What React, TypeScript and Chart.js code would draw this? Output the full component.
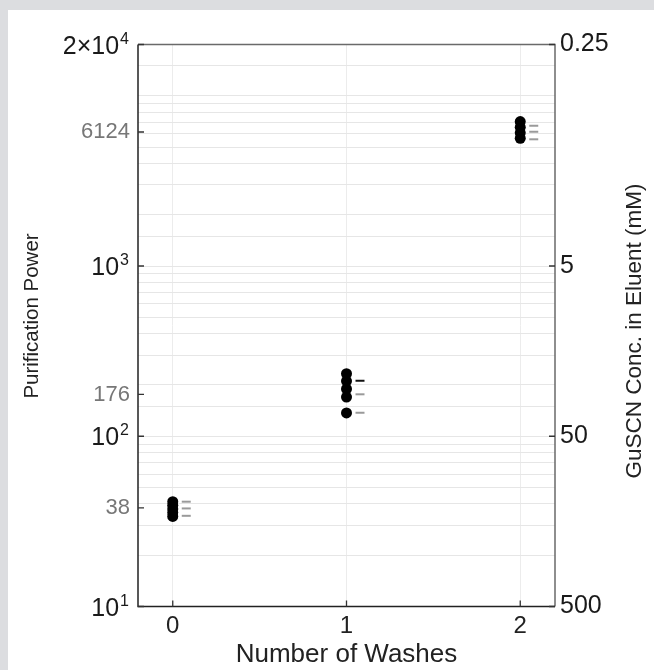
import { useEffect, useRef } from "react";
import { Chart, registerables } from "chart.js";

Chart.register(...registerables);

// ---- data ----
const washes = [0, 1, 2];
const wash0Values = [41.3, 39.3, 37.4, 35.6, 33.8];
const wash1Values = [233, 211, 189.5, 170, 137];
const wash2Values = [7050, 6520, 6060, 5620];
const wash0Marks = [41.3, 37.7, 34.1];
const wash1Marks = [212, 176.4, 137.5];
const wash2Marks = [6670, 6150, 5550];
const wash0MarkDark = [false, false, false];
const wash1MarkDark = [true, false, false];
const wash2MarkDark = [false, false, false];

const greyTickValues = [38, 176, 6124];
const greyTickLabels = ["38", "176", "6124"];
const powerTickValues = [10, 100, 1000, 20000];
const powerTickBases = ["10", "10", "10", "2×10"];
const powerTickExps = ["1", "2", "3", "4"];
const rightTickValues = [0.25, 5, 50, 500];
const rightTickLabels = ["0.25", "5", "50", "500"];
const xTickValues = [0, 1, 2];

const xTitle = "Number of Washes";
const yTitle = "Purification Power";
const y2Title = "GuSCN Conc. in Eluent (mM)";

const FONT = "'Liberation Sans', Arial, Helvetica, sans-serif";

function makeDash(color: string): HTMLCanvasElement {
  const c = document.createElement("canvas");
  c.width = 38;
  c.height = 4;
  const g = c.getContext("2d")!;
  g.strokeStyle = color;
  g.lineWidth = 2;
  g.beginPath();
  g.moveTo(28, 2);
  g.lineTo(37, 2);
  g.stroke();
  return c;
}

const framePlugin = {
  id: "frame",
  afterDraw(chart: any) {
    const { ctx, chartArea: a, scales } = chart;
    ctx.save();
    ctx.lineWidth = 1.5;
    ctx.strokeStyle = "#6a6a6a";
    ctx.beginPath();
    ctx.moveTo(a.left, a.top);
    ctx.lineTo(a.right, a.top);
    ctx.lineTo(a.right, a.bottom);
    ctx.stroke();
    ctx.strokeStyle = "#222";
    ctx.beginPath();
    ctx.moveTo(a.left, a.top);
    ctx.lineTo(a.left, a.bottom);
    ctx.lineTo(a.right, a.bottom);
    ctx.stroke();

    const L = 6;
    ctx.lineWidth = 1.3;
    ctx.strokeStyle = "#333";
    ctx.beginPath();
    [...greyTickValues, ...powerTickValues].forEach((v) => {
      const y = scales.y.getPixelForValue(v);
      ctx.moveTo(a.left, y);
      ctx.lineTo(a.left + L, y);
    });
    rightTickValues.forEach((v) => {
      const y = scales.y2.getPixelForValue(v);
      ctx.moveTo(a.right, y);
      ctx.lineTo(a.right - L, y);
    });
    xTickValues.forEach((v) => {
      const x = scales.x.getPixelForValue(v);
      ctx.moveTo(x, a.bottom);
      ctx.lineTo(x, a.bottom - L);
    });
    ctx.stroke();

    // power-of-ten labels with superscripts
    ctx.fillStyle = "#1a1a1a";
    ctx.textBaseline = "alphabetic";
    ctx.textAlign = "left";
    powerTickValues.forEach((v, i) => {
      const y = scales.y.getPixelForValue(v);
      ctx.font = `16px ${FONT}`;
      const ws = ctx.measureText(powerTickExps[i]).width;
      ctx.font = `25px ${FONT}`;
      const wb = ctx.measureText(powerTickBases[i]).width;
      const right = a.left - 9;
      const x0 = right - ws - wb - 1;
      ctx.fillText(powerTickBases[i], x0, y + 9);
      ctx.font = `16px ${FONT}`;
      ctx.fillText(powerTickExps[i], x0 + wb + 1, y - 1);
    });

    ctx.fillStyle = "#222";
    ctx.textAlign = "center";
    ctx.textBaseline = "middle";
    ctx.font = `26px ${FONT}`;
    ctx.fillText(xTitle, (a.left + a.right) / 2, 645);
    ctx.font = `20.5px ${FONT}`;
    ctx.save();
    ctx.translate(24, 306);
    ctx.rotate(-Math.PI / 2);
    ctx.fillText(yTitle, 0, 0);
    ctx.restore();
    ctx.font = `22.5px ${FONT}`;
    ctx.save();
    ctx.translate(627, 321);
    ctx.rotate(-Math.PI / 2);
    ctx.fillText(y2Title, 0, 0);
    ctx.restore();
    ctx.restore();
  },
};

export default function App() {
  const ref = useRef<HTMLCanvasElement>(null);

  useEffect(() => {
    const greyDash = makeDash("#9a9a9a");
    const darkDash = makeDash("#111");
    const groups = [wash0Values, wash1Values, wash2Values];
    const marks = [wash0Marks, wash1Marks, wash2Marks];
    const dark = [wash0MarkDark, wash1MarkDark, wash2MarkDark];

    const pointData: { x: number; y: number }[] = [];
    groups.forEach((vals, i) => vals.forEach((v) => pointData.push({ x: washes[i], y: v })));
    const markData: { x: number; y: number }[] = [];
    const markStyles: HTMLCanvasElement[] = [];
    marks.forEach((vals, i) =>
      vals.forEach((v, j) => {
        markData.push({ x: washes[i], y: v });
        markStyles.push(dark[i][j] ? darkDash : greyDash);
      })
    );

    const chart = new Chart(ref.current!, {
      type: "scatter",
      data: {
        datasets: [
          {
            data: markData,
            pointStyle: markStyles as any,
            pointRadius: 5,
            pointHoverRadius: 5,
          },
          {
            data: pointData,
            pointRadius: 5.5,
            pointHoverRadius: 5.5,
            backgroundColor: "#000",
            borderColor: "#000",
            borderWidth: 0,
          },
        ],
      },
      options: {
        animation: false,
        responsive: false,
        events: [],
        layout: { padding: { top: 34.5, left: 0, right: 0, bottom: 0 } },
        plugins: { legend: { display: false }, tooltip: { enabled: false } },
        scales: {
          x: {
            type: "linear",
            min: -0.2,
            max: 2.2,
            afterBuildTicks: (s: any) => {
              s.ticks = xTickValues.map((v) => ({ value: v }));
            },
            afterFit: (s: any) => {
              s.height = 63.5;
            },
            grid: { color: "#ececec", lineWidth: 1, drawTicks: false },
            border: { display: false },
            ticks: {
              padding: 5,
              color: "#222",
              font: { family: FONT, size: 24 },
              callback: (v: any) => String(v),
            },
          },
          y: {
            type: "logarithmic",
            position: "left",
            min: 10,
            max: 20000,
            afterBuildTicks: (s: any) => {
              const base = s.ticks.map((t: any) => t.value);
              const all = Array.from(new Set([...base, ...greyTickValues, ...powerTickValues])).sort(
                (p: any, q: any) => p - q
              );
              s.ticks = all.map((v: any) => ({ value: v }));
            },
            afterFit: (s: any) => {
              s.width = 130;
            },
            grid: {
              drawTicks: false,
              lineWidth: 1,
              color: (c: any) =>
                c.tick && greyTickValues.includes(c.tick.value) ? "rgba(0,0,0,0)" : "#e6e6e6",
            },
            border: { display: false },
            ticks: {
              autoSkip: false,
              padding: 8,
              font: { family: FONT, size: 22 },
              color: "#777",
              callback: (v: any) => {
                const i = greyTickValues.indexOf(Number(v));
                return i >= 0 ? greyTickLabels[i] : "";
              },
            },
          },
          y2: {
            type: "logarithmic",
            position: "right",
            reverse: true,
            min: 0.25,
            max: 500,
            afterBuildTicks: (s: any) => {
              s.ticks = rightTickValues.map((v) => ({ value: v }));
            },
            afterFit: (s: any) => {
              s.width = 99;
            },
            grid: { display: false, drawTicks: false },
            border: { display: false },
            ticks: {
              autoSkip: false,
              padding: 5,
              color: "#1a1a1a",
              font: { family: FONT, size: 25 },
              callback: (v: any) => {
                const i = rightTickValues.indexOf(Number(v));
                return i >= 0 ? rightTickLabels[i] : "";
              },
            },
          },
        },
      },
      plugins: [framePlugin],
    });
    return () => chart.destroy();
  }, []);

  return (
    <div
      style={{
        position: "absolute",
        left: 0,
        top: 0,
        width: 654,
        height: 670,
        background: "#dcdde0",
        overflow: "hidden",
      }}
    >
      <div
        style={{
          position: "absolute",
          left: 8,
          top: 10,
          width: 646,
          height: 660,
          background: "#fff",
        }}
      >
        <canvas ref={ref} width={646} height={660} style={{ display: "block" }} />
      </div>
    </div>
  );
}
